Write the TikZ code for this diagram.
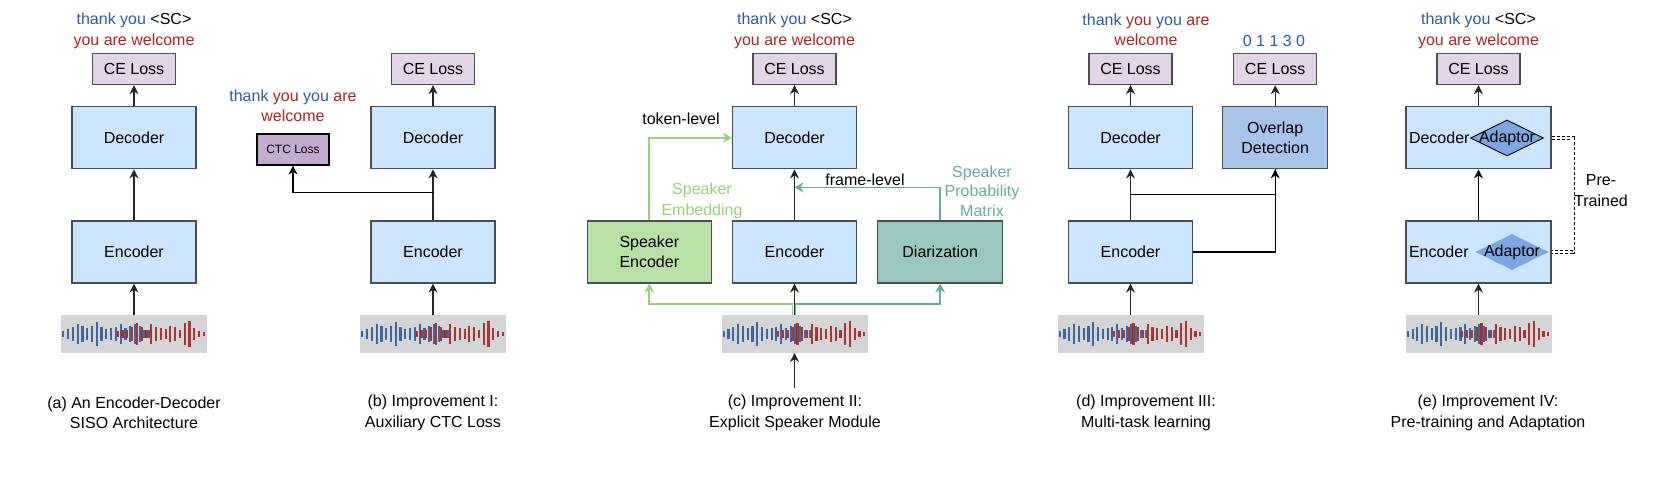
\documentclass[tikz,border=0pt]{standalone}
\usepackage{fontspec}
\setmainfont{Liberation Sans}
\usetikzlibrary{positioning,arrows.meta,shapes.geometric}
\definecolor{BoxBlue}{HTML}{CCE5FF}
\definecolor{LossPurple}{HTML}{E1D5E7}
\definecolor{CtcPurple}{HTML}{C3ABD0}
\definecolor{SpkGreen}{HTML}{B9E0A5}
\definecolor{DiarTeal}{HTML}{9AC7BF}
\definecolor{OvlBlue}{HTML}{A9C4EB}
\definecolor{AdaptBlue}{HTML}{7EA6E0}
\definecolor{EdgeGray}{HTML}{4A4D52}
\definecolor{WaveGray}{HTML}{D4D5D7}
\definecolor{TokBlue}{HTML}{2F5B9C}
\definecolor{TokRed}{HTML}{A82323}
\definecolor{LineGreen}{HTML}{97D077}
\definecolor{LineTeal}{HTML}{67AB9F}

% bars of a two-speaker waveform, drawn over the grey box #1
\newcommand{\wavebars}[1]{%
  \begin{scope}[shift={(#1.west)}]
    \foreach \h [count=\i from 0] in {2.7,5,7.3,10,8.3,5.7,8.3,12.3,6.7,5,6,7.3,10,6,8.3,10,8.3,4,4}
      \draw[TokBlue,opacity=.9,line width=2.2pt] (2.5+\i*4.78,-\h) -- (2.5+\i*4.78,\h);
    \foreach \h [count=\i from 0] in {2.7,4,4,7.3,10.7,6.7,4,10,6.7,6,5,8.3,6.7,4,10.7,13.3,6,2.7,1.7}
      \draw[TokRed,opacity=.9,line width=2.2pt] (57+\i*4.78,-\h) -- (57+\i*4.78,\h);
  \end{scope}}

\begin{document}
\begin{tikzpicture}[x=1pt,y=-1pt,font=\fontsize{16}{20.5}\selectfont,
  block/.style={draw=EdgeGray,line width=1.2pt,fill=BoxBlue,minimum width=124pt,minimum height=62pt,align=center},
  loss/.style={draw=EdgeGray,line width=1.2pt,fill=LossPurple,minimum width=83pt,minimum height=31pt},
  wave/.style={fill=WaveGray,minimum width=146pt,minimum height=38pt,inner sep=0pt},
  flow/.style={-{Stealth[length=9pt,width=9pt]},line width=1.2pt,draw=black!85},
  greenflow/.style={-{Stealth[length=9pt,width=10pt]},line width=1.8pt,draw=LineGreen},
  tealflow/.style={-{Stealth[length=9pt,width=10pt]},line width=1.8pt,draw=LineTeal},
  adaptor/.style={diamond,fill=AdaptBlue,minimum width=73pt,minimum height=36pt,inner sep=0pt}]
  \useasboundingbox (0,0) rectangle (1661,482);

  % (a)
  \node[block] (enca) at (134,252) {Encoder};
  \node[block,above=51pt of enca] (deca) {Decoder};
  \node[loss,above=21pt of deca] (cea) {CE Loss};
  \node[wave,below=31pt of enca] (wva) {};
  \wavebars{wva}
  \node[align=center] (txta) at (134,31) {\textcolor{TokBlue}{thank you} <SC>\\\textcolor{TokRed}{you are welcome}};
  \node[align=center] (capa) at (134,413) {(a) An Encoder-Decoder\\SISO Architecture};
  \draw[flow] (wva) -- (enca);
  \draw[flow] (enca) -- (deca);
  \draw[flow] (deca) -- (cea);

  % (b)
  \node[block] (encb) at (433,252) {Encoder};
  \node[block,above=51pt of encb] (decb) {Decoder};
  \node[loss,above=21pt of decb] (ceb) {CE Loss};
  \node[wave,below=31pt of encb] (wvb) {};
  \wavebars{wvb}
  \node[draw=black,line width=1.2pt,fill=CtcPurple,minimum width=72pt,minimum height=31pt,font=\fontsize{12}{14}\selectfont] (ctcb) at (293,149.5) {CTC Loss};
  \node[align=center] (txtb) at (293,106) {\textcolor{TokBlue}{thank} \textcolor{TokRed}{you} \textcolor{TokBlue}{you} \textcolor{TokRed}{are}\\\textcolor{TokRed}{welcome}};
  \node[align=center] (capb) at (433,413) {(b) Improvement I:\\Auxiliary CTC Loss};
  \coordinate[above=28pt of encb.north] (splitb);
  \draw[flow] (wvb) -- (encb);
  \draw[flow] (encb) -- (decb);
  \draw[flow] (decb) -- (ceb);
  \draw[flow,draw=black] (splitb) -| (ctcb);

  % (c)
  \node[block] (encc) at (794.5,252) {Encoder};
  \node[block,above=51pt of encc] (decc) {Decoder};
  \node[loss,above=21pt of decc] (cec) {CE Loss};
  \node[block,fill=SpkGreen,left=20pt of encc] (spkc) {Speaker\\Encoder};
  \node[block,fill=DiarTeal,minimum width=125pt,right=20pt of encc] (diarc) {Diarization};
  \node[wave,below=31pt of encc] (wvc) {};
  \wavebars{wvc}
  \coordinate[below=35pt of wvc] (inc);
  \coordinate[above=33pt of encc.north] (framec);
  \node[align=center] (txtc) at (794.5,31) {\textcolor{TokBlue}{thank you} <SC>\\\textcolor{TokRed}{you are welcome}};
  \node (tokc) at (681,119) {token-level};
  \node[align=center,text=LineGreen] (embc) at (702,201) {Speaker\\Embedding};
  \node (frmc) at (865,180) {frame-level};
  \node[align=center,text=LineTeal,font=\fontsize{16}{19.5}\selectfont] (probc) at (982,191) {Speaker\\Probability\\Matrix};
  \node[align=center] (capc) at (795,413) {(c) Improvement II:\\Explicit Speaker Module};
  \draw[greenflow] ([xshift=-2pt]wvc.north) -- ++(0,-11) -| (spkc);
  \draw[tealflow] ([xshift=1pt]wvc.north) -- ++(0,-11) -| (diarc);
  \draw[greenflow] (spkc) |- (decc);
  \draw[tealflow] (diarc) |- (framec);
  \draw[flow] (inc) -- (wvc);
  \draw[flow] (wvc) -- (encc);
  \draw[flow] (encc) -- (decc);
  \draw[flow] (decc) -- (cec);

  % (d)
  \node[block] (encd) at (1130.5,252) {Encoder};
  \node[block,above=51pt of encd] (decd) {Decoder};
  \node[loss,above=21pt of decd] (ced) {CE Loss};
  \node[block,fill=OvlBlue,minimum width=105pt,right=29pt of decd] (ovld) {Overlap\\Detection};
  \node[loss,above=21pt of ovld] (cetwod) {CE Loss};
  \node[wave,below=31pt of encd] (wvd) {};
  \wavebars{wvd}
  \node[align=center] (txtd) at (1146,30) {\textcolor{TokBlue}{thank} \textcolor{TokRed}{you} \textcolor{TokBlue}{you} \textcolor{TokRed}{are}\\\textcolor{TokRed}{welcome}};
  \node[text=TokBlue] (cntd) at (1274,41) {0 1 1 3 0};
  \node[align=center] (capd) at (1146,413) {(d) Improvement III:\\Multi-task learning};
  \coordinate[above=26pt of encd.north] (splitd);
  \draw[flow] (wvd) -- (encd);
  \draw[flow] (encd) -- (decd);
  \draw[flow] (decd) -- (ced);
  \draw[flow] (ovld) -- (cetwod);
  \draw[line width=1.2pt] (encd) -| (ovld);
  \draw[flow,draw=black] (splitd) -| (ovld);

  % (e)
  \node[block,minimum width=145pt,text width=139pt,inner xsep=3pt,align=left] (ence) at (1478.5,252) {Encoder};
  \node[block,minimum width=145pt,text width=139pt,inner xsep=3pt,align=left,above=51pt of ence] (dece) {Decoder};
  \node[loss,above=21pt of dece] (cee) {CE Loss};
  \node[adaptor,draw=black,line width=0.9pt] (adpd) at (1507,138) {};
  \node (adpdtxt) at (adpd) {Adaptor};
  \node[adaptor] (adpe) at (1512,252) {};
  \node (adpetxt) at (adpe) {Adaptor};
  \node[wave,below=31pt of ence] (wve) {};
  \wavebars{wve}
  \node[align=center] (txte) at (1478.5,31) {\textcolor{TokBlue}{thank you} <SC>\\\textcolor{TokRed}{you are welcome}};
  \node[align=center] (pree) at (1601,190.5) {Pre-\\Trained};
  \node[align=center] (cape) at (1488,413) {(e) Improvement IV:\\Pre-training and Adaptation};
  \draw[flow] (wve) -- (ence);
  \draw[flow,draw=black] (ence) -- (dece);
  \draw[flow] (dece) -- (cee);
  \draw[line width=.6pt,double=white,double distance=2.6pt,dash pattern=on 3pt off 2pt] (dece.east) -- ++(21,0) |- (ence.east);
\end{tikzpicture}
\end{document}
